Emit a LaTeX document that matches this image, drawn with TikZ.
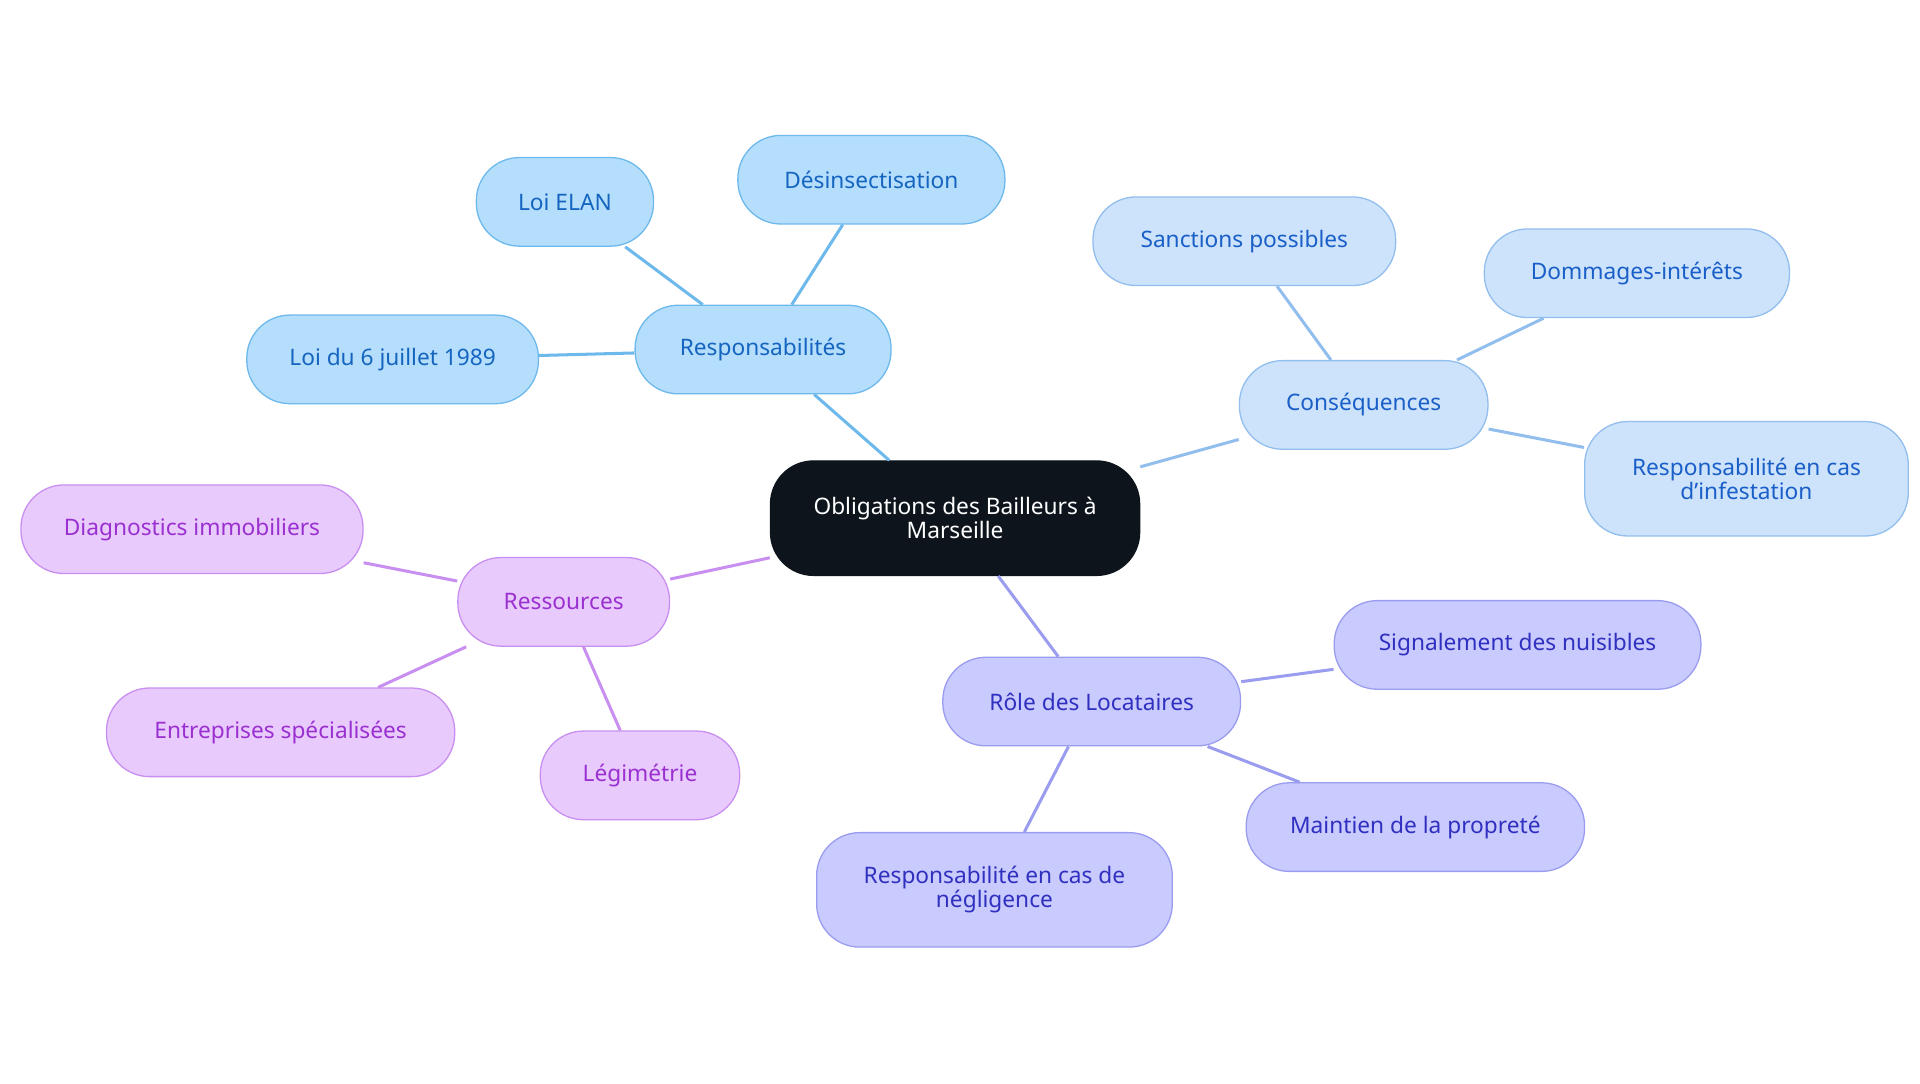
\documentclass[tikz,border=0pt]{standalone}
\usepackage{fontspec}
\setmainfont{Noto Sans}
\definecolor{cfill}{HTML}{0D141C}
\definecolor{bfill}{HTML}{B5DEFC}\definecolor{bline}{HTML}{6DB9EC}\definecolor{btext}{HTML}{1565C0}
\definecolor{kfill}{HTML}{CDE3FB}\definecolor{kline}{HTML}{92BEEE}\definecolor{ktext}{HTML}{1A5FC8}
\definecolor{pfill}{HTML}{E8CAFD}\definecolor{pline}{HTML}{C88FF0}\definecolor{ptext}{HTML}{9B30D0}
\definecolor{lfill}{HTML}{C9CAFD}\definecolor{lline}{HTML}{9A9CF0}\definecolor{ltext}{HTML}{3030C0}
\tikzset{
 box/.style={rounded corners=0.7cm,align=center,font=\fontsize{10.5}{11}\selectfont,line width=0.6pt,minimum height=1.44cm,inner sep=0pt},
 bb/.style={box,fill=bfill,draw=bline,text=btext},
 kb/.style={box,fill=kfill,draw=kline,text=ktext},
 pb/.style={box,fill=pfill,draw=pline,text=ptext},
 lb/.style={box,fill=lfill,draw=lline,text=ltext},
 be/.style={bline,line width=1.4pt},
 ke/.style={kline,line width=1.4pt},
 pe/.style={pline,line width=1.4pt},
 le/.style={lline,line width=1.4pt},
}
\begin{document}
\begin{tikzpicture}[x=0.02cm,y=-0.02cm]
\useasboundingbox (0,0) rectangle (1560,880);
\node[box,fill=cfill,draw=cfill,text=white,minimum width=6cm,minimum height=1.86cm] (c) at (776,421) {Obligations des Bailleurs à\\Marseille};
\node[bb,minimum width=4.16cm] (r) at (620,284) {Responsabilités};
\node[bb,minimum width=2.88cm] (r1) at (459,164) {Loi ELAN};
\node[bb,minimum width=4.34cm] (r2) at (708,146) {Désinsectisation};
\node[bb,minimum width=4.74cm] (r3) at (319,292) {Loi du 6 juillet 1989};
\node[kb,minimum width=4.04cm] (k) at (1108,329) {Conséquences};
\node[kb,minimum width=4.92cm] (k1) at (1011,196) {Sanctions possibles};
\node[kb,minimum width=4.96cm] (k2) at (1330,222) {Dommages-intérêts};
\node[kb,minimum width=5.26cm,minimum height=1.86cm] (k3) at (1419,389) {Responsabilité en cas\\d'infestation};
\node[pb,minimum width=3.44cm] (p) at (458,489) {Ressources};
\node[pb,minimum width=5.56cm] (p1) at (156,430) {Diagnostics immobiliers};
\node[pb,minimum width=5.66cm] (p2) at (228,595) {Entreprises spécialisées};
\node[pb,minimum width=3.24cm] (p3) at (520,630) {Légimétrie};
\node[lb,minimum width=4.84cm] (l) at (887,570) {Rôle des Locataires};
\node[lb,minimum width=5.96cm] (l1) at (1233,524) {Signalement des nuisibles};
\node[lb,minimum width=5.5cm] (l2) at (1150,672) {Maintien de la propreté};
\node[lb,minimum width=5.78cm,minimum height=1.86cm] (l3) at (808,723) {Responsabilité en cas de\\négligence};
\begin{scope}[on background layer/.style={}]
\end{scope}
\draw[be] (c) -- (r); \draw[be] (r) -- (r1); \draw[be] (r) -- (r2); \draw[be] (r) -- (r3);
\draw[ke] (c) -- (k); \draw[ke] (k) -- (k1); \draw[ke] (k) -- (k2); \draw[ke] (k) -- (k3);
\draw[pe] (c) -- (p); \draw[pe] (p) -- (p1); \draw[pe] (p) -- (p2); \draw[pe] (p) -- (p3);
\draw[le] (c) -- (l); \draw[le] (l) -- (l1); \draw[le] (l) -- (l2); \draw[le] (l) -- (l3);
\end{tikzpicture}
\end{document}
